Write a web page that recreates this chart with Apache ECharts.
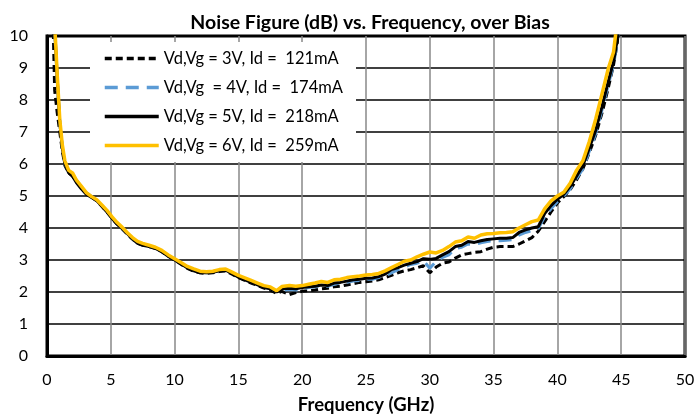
<!DOCTYPE html>
<html lang="en">
<head>
    <meta charset="UTF-8">
    <title>Noise Figure vs. Frequency</title>
    <style>
        body { margin: 0; padding: 0; background: #fff; }
        #chart-container { width: 698px; height: 418px; }
    </style>
</head>
<body>
    <div id="chart-container"></div>
    <script src="https://cdn.jsdelivr.net/npm/echarts@6.0.0/dist/echarts.min.js"></script>
    <script>
        // frequency points (GHz)
        const freqs = [
            0.4, 0.5, 0.6, 0.8, 1.0, 1.2, 1.4, 1.7, 2.0, 2.3,
            2.7, 3.1, 3.5, 3.9, 4.3, 4.7, 5.1, 5.5, 5.9, 6.3,
            6.7, 7.1, 7.5, 8.0, 8.5, 9.0, 9.5, 10.0, 10.5, 11.0,
            11.5, 12.0, 12.5, 13.0, 13.5, 14.0, 14.5, 15.0, 15.5, 16.0,
            16.5, 17.0, 17.5, 18.0, 18.4, 19.0, 19.5, 20.0, 20.5, 21.0,
            21.5, 22.0, 22.5, 23.0, 23.5, 24.0, 24.5, 25.0, 25.5, 26.0,
            26.5, 27.0, 27.5, 28.0, 28.5, 29.0, 29.5, 30.0, 30.5, 31.0,
            31.5, 32.0, 32.5, 33.0, 33.5, 34.0, 34.5, 35.0, 35.5, 36.0,
            36.5, 37.0, 37.5, 38.0, 38.5, 39.0, 39.5, 40.0, 40.5, 41.0,
            41.5, 42.0, 42.5, 43.0, 43.5, 44.0, 44.4, 44.7, 45.0
        ];

        // noise figure (dB) per bias
        const nf3V = [
            11.5, 10.0, 8.3, 7.6, 7.0, 6.4, 5.95, 5.72, 5.62, 5.45,
            5.24, 5.06, 4.96, 4.85, 4.68, 4.5, 4.3, 4.12, 3.97, 3.8,
            3.65, 3.52, 3.47, 3.42, 3.36, 3.26, 3.12, 3.0, 2.87, 2.74,
            2.65, 2.6, 2.58, 2.6, 2.64, 2.66, 2.56, 2.45, 2.36, 2.28,
            2.2, 2.12, 2.06, 1.96, 2.02, 1.92, 1.98, 2.02, 2.04, 2.06,
            2.1, 2.12, 2.16, 2.18, 2.22, 2.26, 2.3, 2.32, 2.34, 2.38,
            2.45, 2.52, 2.6, 2.66, 2.7, 2.76, 2.82, 2.6, 2.78, 2.9,
            2.94, 3.06, 3.16, 3.2, 3.24, 3.26, 3.34, 3.4, 3.42, 3.42,
            3.42, 3.5, 3.6, 3.7, 3.9, 4.2, 4.5, 4.78, 4.98, 5.2,
            5.5, 5.85, 6.35, 6.9, 7.6, 8.4, 9.1, 9.8, 11.5
        ];
        const nf4V = [
            16, 13, 10.2, 8.6, 7.3, 6.5, 6.0, 5.75, 5.68, 5.5,
            5.28, 5.1, 4.98, 4.86, 4.7, 4.52, 4.32, 4.14, 3.98, 3.82,
            3.66, 3.54, 3.48, 3.42, 3.38, 3.28, 3.14, 3.02, 2.9, 2.78,
            2.68, 2.62, 2.6, 2.64, 2.66, 2.7, 2.6, 2.48, 2.4, 2.32,
            2.24, 2.16, 2.1, 2.02, 2.05, 2.08, 2.06, 2.1, 2.14, 2.16,
            2.2, 2.18, 2.24, 2.28, 2.3, 2.34, 2.36, 2.4, 2.4, 2.45,
            2.5, 2.6, 2.7, 2.78, 2.86, 2.9, 2.98, 2.74, 2.96, 3.08,
            3.16, 3.36, 3.4, 3.5, 3.48, 3.54, 3.58, 3.6, 3.6, 3.62,
            3.64, 3.78, 3.86, 3.92, 3.98, 4.35, 4.6, 4.82, 5.0, 5.22,
            5.55, 5.85, 6.4, 6.95, 7.7, 8.5, 9.1, 9.8, 11.5
        ];
        const nf5V = [
            16, 13, 10.3, 8.7, 7.3, 6.5, 6.0, 5.72, 5.62, 5.42,
            5.22, 5.05, 4.95, 4.85, 4.68, 4.5, 4.3, 4.12, 3.98, 3.82,
            3.66, 3.52, 3.46, 3.42, 3.36, 3.26, 3.12, 3.0, 2.88, 2.75,
            2.66, 2.6, 2.6, 2.62, 2.66, 2.68, 2.58, 2.46, 2.38, 2.3,
            2.22, 2.14, 2.1, 2.0, 2.1, 2.12, 2.1, 2.14, 2.16, 2.18,
            2.22, 2.2, 2.28, 2.3, 2.34, 2.38, 2.4, 2.43, 2.44, 2.48,
            2.56, 2.7, 2.76, 2.84, 2.9, 2.95, 3.04, 3.02, 3.05, 3.16,
            3.26, 3.42, 3.46, 3.58, 3.55, 3.6, 3.64, 3.66, 3.68, 3.68,
            3.7, 3.86, 3.94, 4.0, 4.04, 4.45, 4.7, 4.9, 5.05, 5.3,
            5.62, 5.95, 6.5, 7.05, 7.8, 8.6, 9.2, 9.9, 11.5
        ];
        const nf6V = [
            16, 13, 10.4, 8.8, 7.4, 6.6, 6.1, 5.8, 5.72, 5.5,
            5.3, 5.1, 4.98, 4.88, 4.72, 4.55, 4.35, 4.17, 4.02, 3.85,
            3.7, 3.58, 3.52, 3.46, 3.4, 3.3, 3.16, 3.04, 2.92, 2.8,
            2.72, 2.65, 2.63, 2.65, 2.7, 2.72, 2.62, 2.52, 2.44, 2.36,
            2.28, 2.2, 2.16, 2.04, 2.17, 2.2, 2.18, 2.2, 2.24, 2.28,
            2.33, 2.3, 2.38, 2.4, 2.45, 2.48, 2.5, 2.53, 2.55, 2.58,
            2.66, 2.76, 2.86, 2.96, 3.0, 3.1, 3.18, 3.25, 3.22, 3.3,
            3.42, 3.56, 3.6, 3.72, 3.68, 3.78, 3.82, 3.83, 3.85, 3.86,
            3.88, 4.0, 4.1, 4.2, 4.25, 4.6, 4.85, 5.0, 5.12, 5.4,
            5.8, 6.1, 6.7, 7.4, 8.2, 9.0, 9.5, 10.5, 12
        ];

        const seriesNames = [
            'Vd,Vg = 3V, Id =  121mA',
            'Vd,Vg  = 4V, Id =  174mA',
            'Vd,Vg = 5V, Id =  218mA',
            'Vd,Vg = 6V, Id =  259mA'
        ];
        const xTicks = [0, 5, 10, 15, 20, 25, 30, 35, 40, 45, 50];
        const yTicks = [0, 1, 2, 3, 4, 5, 6, 7, 8, 9, 10];

        const font = 'Lato, "Open Sans", sans-serif';
        const pairs = vals => freqs.map((f, i) => [f, vals[i]]);

        const chart = echarts.init(document.getElementById('chart-container'));

        const option = {
            animation: false,
            backgroundColor: '#fff',
            title: {
                text: 'Noise Figure (dB) vs. Frequency, over Bias',
                left: 365,
                textAlign: 'center',
                top: 8,
                textStyle: { fontFamily: font, fontSize: 19.5, fontWeight: 'bold', color: '#000' }
            },
            legend: {
                orient: 'vertical',
                left: 90,
                top: 42,
                padding: [8, 13, 8, 13],
                itemGap: 12,
                itemWidth: 54,
                itemHeight: 18,
                backgroundColor: '#fff',
                itemStyle: { opacity: 0 },
                lineStyle: { width: 3.5 },
                textStyle: { fontFamily: font, fontSize: 16.5, color: '#000' },
                data: seriesNames
            },
            grid: {
                left: 47, right: 13, top: 36, bottom: 62,
                show: true,
                borderColor: '#000',
                borderWidth: 3,
                outerBoundsMode: 'none'
            },
            xAxis: {
                type: 'value',
                min: xTicks[0],
                max: xTicks[xTicks.length - 1],
                interval: 5,
                name: 'Frequency (GHz)',
                nameLocation: 'middle',
                nameGap: 40,
                nameTextStyle: { fontFamily: font, fontSize: 18.5, fontWeight: 'bold', color: '#000' },
                axisLine: { lineStyle: { color: '#000', width: 3 } },
                axisTick: { show: false },
                axisLabel: { fontFamily: font, fontSize: 16, color: '#000', margin: 16 },
                splitLine: { show: true, lineStyle: { color: '#888', width: 1.5 } }
            },
            yAxis: {
                type: 'value',
                min: yTicks[0],
                max: yTicks[yTicks.length - 1],
                interval: 1,
                axisLine: { show: true, lineStyle: { color: '#000', width: 3 } },
                axisTick: { show: false },
                axisLabel: { fontFamily: font, fontSize: 16, color: '#000', margin: 19 },
                splitLine: { show: true, lineStyle: { color: '#000', width: 1.5 } }
            },
            series: [
                {
                    name: seriesNames[0], type: 'line', symbol: 'none', clip: true,
                    lineStyle: { color: '#000', width: 3, type: [7, 4] },
                    itemStyle: { color: '#000' },
                    data: pairs(nf3V)
                },
                {
                    name: seriesNames[1], type: 'line', symbol: 'none', clip: true,
                    lineStyle: { color: '#5B9BD5', width: 3, type: [13, 8] },
                    itemStyle: { color: '#5B9BD5' },
                    data: pairs(nf4V)
                },
                {
                    name: seriesNames[2], type: 'line', symbol: 'none', clip: true,
                    lineStyle: { color: '#000', width: 3 },
                    itemStyle: { color: '#000' },
                    data: pairs(nf5V)
                },
                {
                    name: seriesNames[3], type: 'line', symbol: 'none', clip: true,
                    lineStyle: { color: '#FFC000', width: 3.5 },
                    itemStyle: { color: '#FFC000' },
                    data: pairs(nf6V)
                }
            ]
        };

        chart.setOption(option);
    </script>
</body>
</html>
